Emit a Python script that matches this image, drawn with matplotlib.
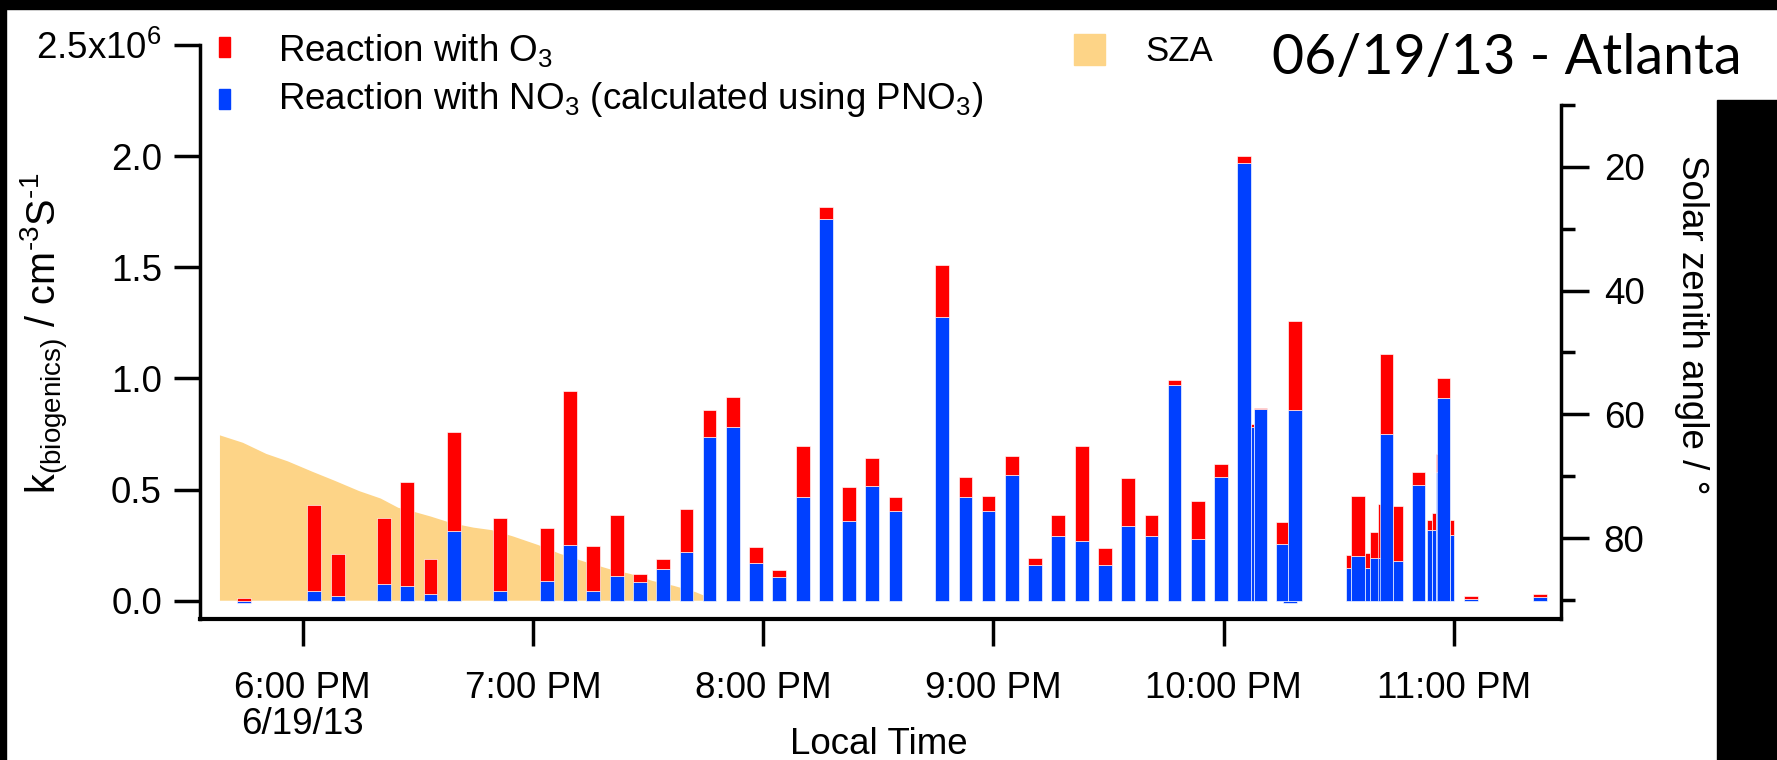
import numpy as np
import matplotlib
matplotlib.use("Agg")
import matplotlib.pyplot as plt
from matplotlib.patches import Rectangle
from matplotlib.ticker import FixedLocator

plt.rcParams['font.family'] = ['Liberation Sans', 'DejaVu Sans']
plt.rcParams['mathtext.default'] = 'regular'

# ---------------------------------------------------------------
# Data (times in minutes after 18:00 local time, rates in 1e6 cm^-3 s^-1)
# ---------------------------------------------------------------
# regularly sampled periods (bar centres)
t_reg = [-15.2, 3.0, 9.1, 21.2, 27.2, 33.3, 39.4, 51.5, 63.6, 69.7,
         75.7, 81.8, 87.8, 93.9, 100.0, 106.0, 112.1, 118.1, 124.2, 130.3,
         136.3, 142.4, 148.4, 154.5, 166.6, 172.7, 178.7, 184.8, 190.9, 196.9,
         203.0, 209.0, 215.1, 221.2, 227.2, 233.3, 239.3, 245.4]
no3_reg = [-0.012, 0.044, 0.020, 0.075, 0.066, 0.030, 0.312, 0.044, 0.089, 0.250,
           0.044, 0.111, 0.083, 0.142, 0.218, 0.736, 0.782, 0.170, 0.107, 0.468,
           1.718, 0.360, 0.514, 0.405, 1.277, 0.468, 0.405, 0.566, 0.160, 0.291,
           0.268, 0.160, 0.336, 0.291, 0.971, 0.276, 0.557, 1.968]
o3_reg = [0.010, 0.388, 0.191, 0.297, 0.466, 0.158, 0.448, 0.328, 0.236, 0.694,
          0.204, 0.276, 0.036, 0.046, 0.193, 0.121, 0.136, 0.072, 0.029, 0.226,
          0.056, 0.152, 0.126, 0.060, 0.235, 0.089, 0.066, 0.083, 0.030, 0.096,
          0.426, 0.076, 0.214, 0.096, 0.021, 0.173, 0.060, 0.032]

# late-evening periods with irregular sampling intervals
t_start_irr = [247.1, 248.0, 255.4, 253.7, 256.8, 271.9, 273.2, 276.7, 278.0, 280.3,
               280.7, 284.1, 289.0, 293.0, 294.3, 295.2, 295.6, 299.1, 302.7, 320.7]
t_end_irr = [248.0, 251.4, 259.1, 256.8, 260.3, 273.2, 276.7, 278.0, 280.7, 281.5,
             284.1, 286.8, 292.5, 294.3, 295.2, 295.8, 299.1, 300.0, 306.2, 324.2]
no3_irr = [0.782, 0.862, -0.012, 0.254, 0.856, 0.146, 0.199, 0.146, 0.190, 0.190,
           0.748, 0.176, 0.520, 0.320, 0.320, 0.578, 0.913, 0.297, 0.008, 0.015]
o3_irr = [0.011, 0.007, 0.000, 0.099, 0.402, 0.060, 0.273, 0.067, 0.121, 0.243,
          0.364, 0.250, 0.060, 0.042, 0.075, 0.083, 0.090, 0.065, 0.012, 0.014]

# solar zenith angle (degrees)
sza_t = [-21.7, -15.7, -9.6, -4.0, 2.5, 8.1, 14.6, 20.2, 24.8, 28.6, 33.2, 38.8,
         44.4, 49.1, 54.6, 61.2, 66.8, 73.3, 79.8, 85.4, 91.0, 96.6, 102.2, 107.7]
sza_deg = [63.3, 64.5, 66.3, 67.5, 69.2, 70.6, 72.3, 73.5, 75.0, 75.6, 76.4, 77.5,
           78.2, 78.6, 79.6, 81.0, 82.4, 83.7, 84.9, 85.7, 86.8, 87.6, 88.6, 90.0]

xtick_min = [0, 60, 120, 180, 240, 300]
xtick_labels = ['6:00 PM\n6/19/13', '7:00 PM', '8:00 PM', '9:00 PM', '10:00 PM', '11:00 PM']
ytick_vals = [0.0, 0.5, 1.0, 1.5, 2.0, 2.5]
ytick_labels = ['0.0', '0.5', '1.0', '1.5', '2.0', '2.5x10$^{6}$']
sza_major = [20, 40, 60, 80]
sza_minor = [10, 30, 50, 70, 90]

# ---------------------------------------------------------------
RED = '#FF0000'
BLUE = '#0040FF'
SZA_COL = '#FDD487'
W, H = 1777, 760
FS = 26.5
BAR_W = 3.6

fig = plt.figure(figsize=(W / 100, H / 100), dpi=100)
fig.patch.set_facecolor('white')

ax = fig.add_axes([199.5 / W, 141.2 / H, (1560.6 - 199.5) / W, (714.7 - 141.2) / H])
ax2 = ax.twinx()
ax.set_zorder(2)
ax2.set_zorder(1)
ax.patch.set_visible(False)

# SZA shading on the right axis
ax2.fill_between(sza_t, sza_deg, 90, color=SZA_COL, lw=0)
ax2.set_ylim(93.0, 0.4)
ax2.yaxis.set_major_locator(FixedLocator(sza_major))
ax2.yaxis.set_minor_locator(FixedLocator(sza_minor))
for s in ['top', 'left', 'bottom']:
    ax2.spines[s].set_visible(False)
ax2.spines['right'].set_linewidth(2.5)
ax2.spines['right'].set_bounds(93.0, 10)
ax2.tick_params(axis='y', which='major', direction='out', length=20, width=2.5,
                pad=11, labelsize=FS)
ax2.tick_params(axis='y', which='minor', direction='out', length=10, width=2.5)


def stacked(left, width, no3, o3, z):
    ax.bar([left], [no3], width=width, bottom=0, align='edge', color=BLUE,
           edgecolor='white', linewidth=0.45, zorder=z)
    if o3 > 0:
        ax.bar([left], [o3], width=width, bottom=max(no3, 0), align='edge',
               color=RED, edgecolor='white', linewidth=0.45, zorder=z + 0.5)


z = 3
for t, n, o in zip(t_reg, no3_reg, o3_reg):
    stacked(t - BAR_W / 2, BAR_W, n, o, z)
    z += 1
for a, b, n, o in zip(t_start_irr, t_end_irr, no3_irr, o3_irr):
    stacked(a, b - a, n, o, z)
    z += 1

ax.set_xlim(-26.9, 327.8)
ax.set_ylim(-0.082, 2.5)
ax.set_xticks(xtick_min)
ax.set_xticklabels(xtick_labels, linespacing=1.05)
ax.set_yticks(ytick_vals)
ax.set_yticklabels(ytick_labels)
ax.spines['top'].set_visible(False)
ax.spines['right'].set_visible(False)
ax.spines['left'].set_linewidth(2.5)
ax.spines['bottom'].set_linewidth(3)
ax.tick_params(axis='x', direction='out', length=19.5, width=2.5, pad=18, labelsize=FS)
ax.tick_params(axis='y', direction='out', length=19, width=2.5, pad=8, labelsize=FS)

# axis titles
fig.text(45 / W, 1 - 333 / H,
         'k$_{(biogenics)}$ / cm$^{\u20103}$S$^{\u20101}$', rotation=90,
         ha='center', va='center', fontsize=28.5)
fig.text(1691 / W, 1 - 325 / H, 'Solar zenith angle / \u00b0', rotation=270,
         ha='center', va='center', fontsize=FS)
fig.text(879 / W, 1 - 745 / H, 'Local Time', ha='center', va='center', fontsize=FS)

# legend
fig.add_artist(Rectangle((218.5 / W, 1 - 57 / H), 11 / W, 20 / H, color=RED,
                         transform=fig.transFigure))
fig.add_artist(Rectangle((218.5 / W, 1 - 109 / H), 11 / W, 20 / H, color=BLUE,
                         transform=fig.transFigure))
fig.add_artist(Rectangle((1074 / W, 1 - 65 / H), 31 / W, 31 / H, color=SZA_COL,
                         transform=fig.transFigure))
fig.text(278 / W, 1 - 61 / H, 'Reaction with O$_{3}$', ha='left', va='baseline', fontsize=26.5)
fig.text(278 / W, 1 - 109 / H, 'Reaction with NO$_{3}$ (calculated using PNO$_{3}$)',
         ha='left', va='baseline', fontsize=26.5)
fig.text(1145 / W, 1 - 61 / H, 'SZA', ha='left', va='baseline', fontsize=25)

fig.text(1742 / W, 1 - 74 / H, '06/19/13 - Atlanta', ha='right', va='baseline',
         fontsize=40, family=['Lato', 'DejaVu Sans'])

# black frame pieces
for rx, ry, rw, rh in [(0, H - 9, W, 9), (0, 0, 6, H), (1717, 0, W - 1717, H - 100)]:
    fig.add_artist(Rectangle((rx / W, ry / H), rw / W, rh / H, color='black',
                             transform=fig.transFigure, zorder=10))

fig.savefig('out.png', dpi=100, facecolor='white')
